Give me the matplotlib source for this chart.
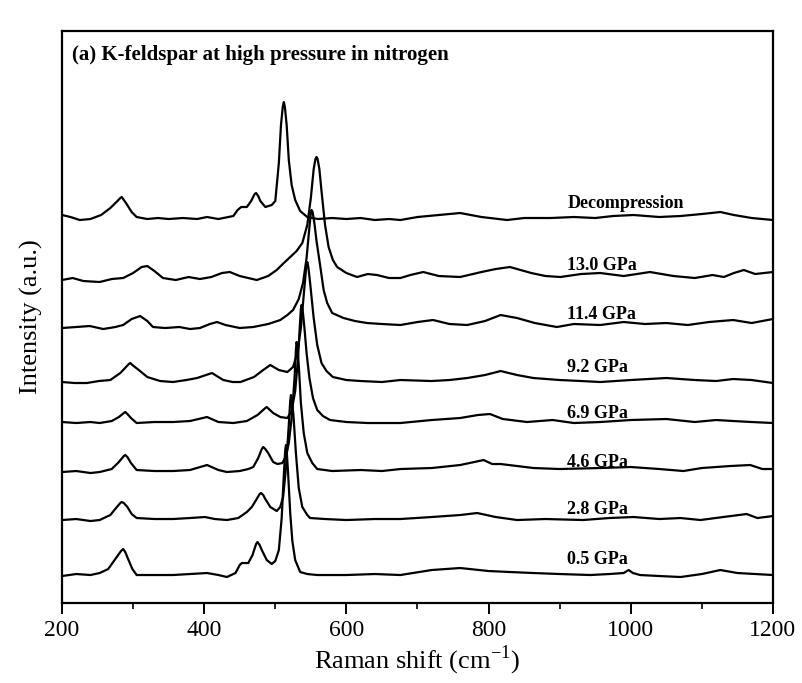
import matplotlib
matplotlib.use('Agg')
import matplotlib.pyplot as plt
from matplotlib.ticker import MultipleLocator
import numpy as np

# =============================================================================
# Raman spectra of K-feldspar, stacked (wavenumber cm-1, stacked intensity a.u.)
# values
# =============================================================================

decompression = [(200, 388), (212, 386), (225, 383), (240, 384), (255, 388), (268, 395), (278, 402), (282, 405),
                 (284, 406), (287, 403), (290, 400), (298, 391), (305, 386), (320, 384), (335, 385), (350, 384),
                 (370, 385), (390, 384), (404, 386), (420, 384), (441, 387), (447, 393), (452, 396), (460, 396),
                 (466, 402), (471, 409), (473, 410), (476, 407), (479, 402), (486, 396), (495, 398), (500, 402),
                 (505, 440), (508, 478), (510.5, 496), (512, 501), (513.5, 496), (516, 478), (519, 443), (523, 418),
                 (528, 403), (535, 392), (545, 386), (560, 384), (580, 385), (600, 384), (620, 385), (640, 383),
                 (660, 384), (676, 383), (700, 386), (730, 388), (760, 390), (790, 386), (826, 383), (850, 385),
                 (887, 385), (920, 386), (950, 385), (975, 387), (1004, 388), (1040, 386), (1070, 387), (1100, 389),
                 (1126, 391), (1145, 388), (1170, 385), (1200, 383)]

p13_0 = [(200, 323), (215, 325), (230, 322), (253, 321), (270, 324), (286, 325), (300, 330), (312, 336),
         (320, 337), (330, 332), (342, 325), (360, 323), (378, 326), (394, 324), (410, 326), (425, 330),
         (436, 331), (450, 327), (474, 323), (490, 327), (502, 333), (512, 340), (521, 346), (530, 352),
         (538, 360), (545, 378), (550, 405), (554, 434), (556.5, 444), (558, 446), (559.5, 444), (562, 434),
         (565, 412), (570, 378), (575, 356), (581, 343), (587, 336), (600, 330), (615, 326), (630, 329),
         (643, 328), (660, 325), (676, 325), (690, 328), (708, 331), (730, 327), (760, 326), (790, 331),
         (810, 334), (830, 336), (860, 330), (880, 327), (901, 326), (930, 329), (957, 330), (990, 327),
         (1027, 331), (1060, 327), (1090, 325), (1115, 328), (1131, 326), (1145, 330), (1159, 333), (1175, 329),
         (1200, 331)]

p11_4 = [(200, 275), (220, 276), (239, 277), (258, 274), (275, 276), (286, 278), (298, 284), (310, 287),
         (320, 282), (328, 276), (345, 275), (365, 276), (380, 274), (394, 275), (408, 279), (418, 281),
         (430, 278), (450, 275), (469, 276), (490, 279), (507, 283), (517, 288), (525, 293), (533, 304),
         (539, 320), (544, 345), (547.5, 372), (549.8, 389), (551, 393), (552.5, 391), (555, 380), (558, 362),
         (563, 338), (568, 313), (573, 300), (580, 290), (596, 285), (612, 282), (629, 280), (650, 279),
         (676, 278), (700, 281), (722, 283), (745, 279), (770, 278), (795, 282), (817, 288), (840, 285),
         (865, 280), (896, 276), (920, 279), (957, 278), (990, 281), (1020, 279), (1050, 280), (1080, 278),
         (1110, 281), (1144, 283), (1170, 280), (1200, 284)]

p9_2 = [(200, 221), (218, 220), (235, 220), (252, 222), (268, 223), (282, 230), (294, 239), (296, 240),
        (299, 238), (308, 233), (320, 226), (338, 222), (356, 221), (375, 223), (390, 225), (411, 230),
        (420, 226), (427, 223), (440, 221), (451, 221), (470, 226), (483, 233), (493, 238), (505, 233),
        (517, 231), (525, 236), (531, 250), (536, 275), (541, 316), (543.5, 336), (545, 341), (546.5, 336),
        (549, 320), (554, 285), (559, 258), (565, 240), (572, 232), (581, 226), (600, 223), (620, 222),
        (650, 221), (676, 223), (720, 222), (745, 223), (770, 225), (795, 228), (817, 232), (840, 228),
        (863, 225), (900, 223), (930, 222), (957, 221), (1000, 223), (1050, 225), (1090, 223), (1120, 222),
        (1144, 224), (1170, 223), (1200, 220)]

p6_9 = [(200, 181), (220, 180), (240, 181), (253, 180), (270, 182), (280, 186), (287, 190), (289, 191),
        (292, 189), (297, 185), (305, 180), (330, 181), (356, 181), (380, 182), (404, 186), (420, 181),
        (441, 180), (460, 182), (475, 188), (486, 195), (488, 196), (491, 194), (497, 190), (507, 186),
        (517, 185), (523, 192), (528, 212), (532, 245), (534.5, 277), (536, 294), (537, 298), (538.5, 293),
        (541, 275), (544, 250), (548, 225), (553, 205), (559, 193), (567, 187), (577, 183), (600, 181),
        (630, 180), (676, 180), (720, 183), (760, 185), (785, 188), (802, 189), (820, 184), (854, 181),
        (890, 183), (920, 180), (957, 181), (1000, 183), (1050, 184), (1090, 181), (1120, 183), (1144, 182),
        (1170, 181), (1200, 180)]

p4_6 = [(200, 131), (220, 132), (240, 130), (253, 131), (270, 134), (280, 141), (287, 147), (289, 148),
        (292, 146), (297, 140), (305, 133), (330, 132), (356, 132), (380, 133), (404, 138), (420, 133),
        (432, 131), (450, 132), (462, 134), (469, 136), (476, 145), (481, 154), (483, 156), (486, 154),
        (490, 150), (497, 141), (503, 139), (510, 140), (515, 147), (519, 160), (523, 185), (527, 224),
        (529, 253), (530, 261), (531.5, 254), (533.5, 232), (536, 200), (540, 170), (545, 150), (552, 140),
        (559, 134), (580, 132), (620, 133), (650, 132), (676, 134), (720, 135), (760, 138), (780, 141),
        (793, 143), (805, 139), (817, 139), (840, 137), (863, 135), (900, 134), (957, 135), (1000, 136),
        (1040, 134), (1074, 132), (1100, 135), (1140, 137), (1168, 138), (1185, 134), (1200, 134)]

p2_8 = [(200, 83), (220, 84), (240, 82), (253, 83), (268, 88), (276, 95), (282, 100), (284, 101),
        (287, 100), (292, 96), (298, 89), (305, 85), (330, 84), (356, 84), (380, 85), (401, 86),
        (415, 84), (432, 83), (448, 85), (460, 91), (467, 96), (473, 103), (478, 109), (480, 110),
        (483, 108), (486, 104), (493, 96), (502, 92), (507, 96), (511, 106), (515, 135), (519, 178),
        (521, 202), (522, 208), (523.5, 202), (525.5, 188), (529, 150), (533, 115), (538, 96), (545, 88),
        (549, 85), (570, 84), (600, 83), (640, 84), (676, 84), (720, 86), (760, 88), (784, 90),
        (810, 86), (840, 83), (880, 84), (933, 83), (970, 85), (1004, 86), (1040, 84), (1070, 85),
        (1098, 83), (1130, 86), (1163, 89), (1178, 85), (1200, 87)]

p0_5 = [(200, 27), (220, 29), (240, 28), (253, 30), (265, 34), (275, 44), (283, 52), (286, 54),
        (289, 51), (293, 44), (299, 34), (305, 28), (330, 28), (356, 28), (380, 29), (404, 30),
        (420, 28), (432, 26), (444, 30), (450, 38), (453, 40), (462, 40), (468, 48), (473, 59),
        (475, 61), (478, 58), (481, 53), (488, 43), (495, 39), (500, 42), (505, 53), (509, 85),
        (512, 128), (514, 153), (515, 158), (516, 153), (518, 130), (521, 90), (524, 62), (528, 43),
        (535, 31), (545, 29), (559, 28), (600, 28), (640, 29), (676, 28), (720, 33), (760, 35),
        (800, 32), (830, 31), (863, 30), (900, 29), (943, 28), (970, 29), (990, 30), (997, 33),
        (1003, 30), (1013, 28), (1040, 27), (1070, 26), (1100, 29), (1126, 33), (1150, 30), (1175, 29),
        (1200, 28)]

spectra = [decompression, p13_0, p11_4, p9_2, p6_9, p4_6, p2_8, p0_5]
labels = ['Decompression', '13.0 GPa', '11.4 GPa', '9.2 GPa', '6.9 GPa', '4.6 GPa', '2.8 GPa', '0.5 GPa']
label_y = [400, 338, 289, 236, 190, 141, 94, 44]

# =============================================================================


def plotBuilder():
    """Builds the stacked spectra plot"""
    plt.rcParams['font.family'] = ['Liberation Serif', 'DejaVu Serif']
    plt.rcParams['mathtext.fontset'] = 'custom'
    plt.rcParams['mathtext.rm'] = 'Liberation Serif'

    fig = plt.figure(figsize=(8.02, 6.83), dpi=100)
    ax = fig.add_axes([0.0773, 0.1171, 0.8865, 0.8375])

    for spec in spectra:
        arr = np.array(spec)
        ax.plot(arr[:, 0], arr[:, 1], color='black', lw=1.6, solid_joinstyle='round')

    for lab, y in zip(labels, label_y):
        ax.text(911, y, lab, fontsize=13, fontweight='bold', ha='left', va='center')

    ax.text(214, 548, '(a) K-feldspar at high pressure in nitrogen', fontsize=15,
            fontweight='bold', ha='left', va='center')

    ax.set_xlim(200, 1200)
    ax.set_ylim(0, 572)
    ax.xaxis.set_major_locator(MultipleLocator(200))
    ax.xaxis.set_minor_locator(MultipleLocator(100))
    ax.set_yticks([])
    ax.tick_params(axis='x', which='major', direction='out', length=8, width=1.4,
                   labelsize=17, pad=4)
    ax.tick_params(axis='x', which='minor', direction='out', length=4, width=1.2)
    for sp in ax.spines.values():
        sp.set_linewidth(1.6)

    ax.set_xlabel('Raman shift (cm$^{-1}$)', fontsize=19, labelpad=2)
    ax.set_ylabel('Intensity (a.u.)', fontsize=19, labelpad=14)

    plt.savefig('out.png', dpi=100)

# =============================================================================


def main():
    plotBuilder()


if __name__ == '__main__':
    main()
